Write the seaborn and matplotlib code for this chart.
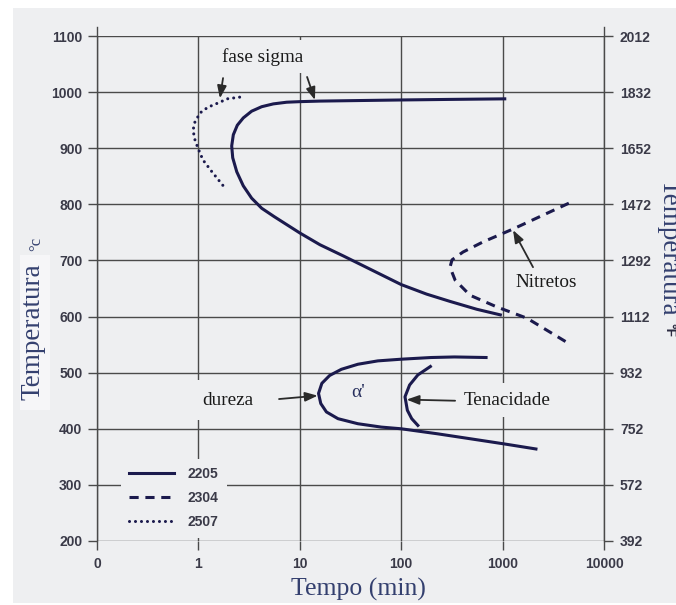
import numpy as np
import pandas as pd
import seaborn as sns
import matplotlib
matplotlib.use("Agg")
import matplotlib.pyplot as plt
from matplotlib.patches import Rectangle
from matplotlib.ticker import NullLocator

# ---------------- data ----------------
# 2205, sigma-phase C-curve (time in min, temperature in degC)
sigma2205_t = [1050, 300, 100, 39.3, 15.8, 10, 7.43, 5.48, 4.21, 3.35, 2.77, 2.42, 2.21, 2.13,
               2.18, 2.39, 2.77, 3.35, 4.21, 5.6, 10, 15.8, 26.9, 100, 178, 303, 556, 950]
sigma2205_T = [988, 987, 986, 985, 984, 983, 982, 979, 974, 966, 954, 941, 924, 904,
               883, 858, 833, 811, 793, 778, 749, 728, 708, 657, 640, 627, 613, 603]

# 2507, sigma-phase C-curve (dotted)
sigma2507_t = [2.55, 1.92, 1.63, 1.24, 1.04, 0.925, 0.885, 0.925, 0.99, 1.11, 1.36, 1.85]
sigma2507_T = [991, 988, 982, 973, 963, 947, 932, 915, 900, 879, 858, 828]

# 2304, nitrides C-curve (dashed)
nitr2304_t = [4500, 1267, 641, 407, 317, 303, 340, 477, 881, 1742, 4400]
nitr2304_T = [802, 756, 733, 715, 701, 688, 665, 638, 617, 597, 553]

# 2205, alpha-prime C-curve
alpha2205_t = [687, 335, 197, 100, 58.8, 37.4, 25.7, 19.7, 16.5, 15.3, 16.1, 18.3, 23.8,
               37.4, 63.6, 100, 229, 489, 1039, 2132]
alpha2205_T = [527, 528, 527, 524, 521, 515, 506, 495, 481, 463, 445, 430, 418,
               409, 403, 400, 391, 382, 373, 364]

# toughness arc inside the alpha-prime curve
tenac_t = [194, 146, 121, 109, 115, 127, 146]
tenac_T = [511, 496, 478, 457, 433, 418, 406]

x_ticks = [0.1, 1, 10, 100, 1000, 10000]
x_labels = ["0", "1", "10", "100", "1000", "10000"]
y_ticks = [200, 300, 400, 500, 600, 700, 800, 900, 1000, 1100]
f_ticks = [392, 572, 752, 932, 1112, 1292, 1472, 1652, 1832, 2012]
legend_labels = ["2205", "2304", "2507"]

# ---------------- style ----------------
BG = "#eeeff1"
NAVY = "#1b1a4d"
GRID = "#4a4a4a"
TXT = "#3a3a48"
LBL = "#34406f"
SERIF = "Liberation Serif"
SANS = "Liberation Sans"

plt.rcParams["font.family"] = [SANS, "DejaVu Sans"]

fig = plt.figure(figsize=(6.76, 6.05), dpi=100, facecolor="white")
fig.patches.append(Rectangle((13 / 676, 2 / 605), 1, 1 - 10 / 605,
                             transform=fig.transFigure, facecolor=BG,
                             edgecolor="none", zorder=-10))
fig.patches.append(Rectangle((20 / 676, 1 - 410 / 605), 30 / 676, 155 / 605,
                             transform=fig.transFigure, facecolor="#f6f6f8",
                             edgecolor="none", zorder=-9))

ax = fig.add_axes([97 / 676, 64 / 605, 507 / 676, 505 / 605])
ax.set_facecolor("none")

LW = 2.2


def draw(t, T, label=None):
    df = pd.DataFrame({"t": t, "T": T})
    sns.lineplot(data=df, x="t", y="T", sort=False, estimator=None,
                 color=NAVY, lw=LW, ax=ax, label=label, legend=False)
    line = ax.lines[-1]
    line.set_solid_joinstyle("round")
    return line


l2205 = draw(sigma2205_t, sigma2205_T)
la = draw(alpha2205_t, alpha2205_T)
lt = draw(tenac_t, tenac_T)
l2304 = draw(nitr2304_t, nitr2304_T)
l2304.set_linestyle((0, (3.0, 2.2)))
l2507 = draw(sigma2507_t, sigma2507_T)
l2507.set_linestyle((0, (0.01, 1.95)))
l2507.set_dash_capstyle("round")

ax.set_xscale("log")
ax.set_xlim(0.1, 10000)
ax.set_ylim(200, 1100)
ax.set_xticks(x_ticks, labels=x_labels)
ax.xaxis.set_minor_locator(NullLocator())
ax.set_yticks(y_ticks)
ax.set_xlabel("")
ax.set_ylabel("")
ax.grid(True, color=GRID, lw=1.0)
for s in ["top", "bottom"]:
    ax.spines[s].set_visible(False)
for s in ["left", "right"]:
    ax.spines[s].set_color(GRID)
    ax.spines[s].set_linewidth(1.0)
    ax.spines[s].set_bounds(200, 1116)
ax.tick_params(axis="both", direction="out", length=6.5, width=1.0,
               color=GRID, labelsize=10, labelcolor=TXT, pad=4)
ax.tick_params(axis="x", pad=5)
ax.tick_params(right=False)

sec = ax.secondary_yaxis("right", functions=(lambda c: c * 1.8 + 32,
                                              lambda f: (f - 32) / 1.8))
sec.set_yticks(f_ticks)
sec.tick_params(direction="out", length=6.5, width=1.0, color=GRID,
                labelsize=10, labelcolor=TXT, pad=5)
sec.yaxis.set_minor_locator(NullLocator())
sec.spines["right"].set_visible(False)

for lab in ax.get_xticklabels() + ax.get_yticklabels() + sec.get_yticklabels():
    lab.set_fontweight("bold")
    lab.set_family(SANS)

leg = ax.legend([l2205, l2304, l2507], legend_labels, loc="upper left",
                bbox_to_anchor=(17 / 507, (541 - 452) / 505), frameon=True,
                facecolor=BG, edgecolor="none", framealpha=1, fancybox=False,
                handlelength=3.2, handletextpad=1.0, labelspacing=0.72,
                borderpad=0.6, prop={"family": SANS, "weight": "bold", "size": 10})
for txt in leg.get_texts():
    txt.set_color(TXT)

# ---------------- annotations ----------------
box = dict(boxstyle="square,pad=0.45", facecolor=BG, edgecolor="none")
afont = dict(family=SERIF, size=13.8, color="#1a1a1a", zorder=1.8)
arrow = dict(arrowstyle="-|>,head_length=0.75,head_width=0.28",
             color="#2a2a2a", lw=1.3, shrinkA=0, shrinkB=0)

ax.text(4.34, 1063, "fase sigma", ha="center", va="center",
        bbox=dict(box, boxstyle="square,pad=0.4"), **afont)
ax.annotate("", xy=(1.63, 989), xytext=(1.75, 1025), arrowprops=arrow)
ax.annotate("", xy=(14.1, 986), xytext=(11.8, 1027), arrowprops=arrow)

ax.text(2680, 660, "Nitretos", ha="center", va="center", bbox=box, **afont)
ax.annotate("", xy=(1268, 754), xytext=(1995, 688), arrowprops=arrow)

ax.text(1.96, 451, "dureza", ha="center", va="center",
        bbox=dict(box, boxstyle="square,pad=0.6"), **afont)
ax.annotate("", xy=(15.0, 459), xytext=(6.24, 453), arrowprops=arrow)

ax.text(1104, 451, "Tenacidade", ha="center", va="center", bbox=box, **afont)
ax.annotate("", xy=(113, 452), xytext=(340, 450), arrowprops=arrow)

ax.text(37.5, 464, "α'", ha="center", va="center", family=SERIF, size=14,
        color="#28305e")

# ---------------- axis titles ----------------
fig.text(33 / 676, 1 - 331.5 / 605, "Temperatura", rotation=90, ha="center",
         va="center", family=SERIF, size=19.5, color=LBL)
fig.text(36 / 676, 1 - 243.5 / 605, "°c", rotation=90, ha="center",
         va="center", family=SERIF, size=12, color=LBL)
fig.text(669 / 676, 1 - 247.5 / 605, "Temperatura", rotation=-90, ha="center",
         va="center", family=SERIF, size=19.5, color=LBL)
fig.text(669 / 676, 1 - 330 / 605, "°F", rotation=-90, ha="center",
         va="center", family=SANS, weight="bold", size=10, color="#2a2a40")
fig.text(358.5 / 676, 1 - 589 / 605, "Tempo (min)", ha="center", va="center",
         family=SERIF, size=18.5, color=LBL)

fig.savefig("out.png", dpi=100, facecolor="white")
